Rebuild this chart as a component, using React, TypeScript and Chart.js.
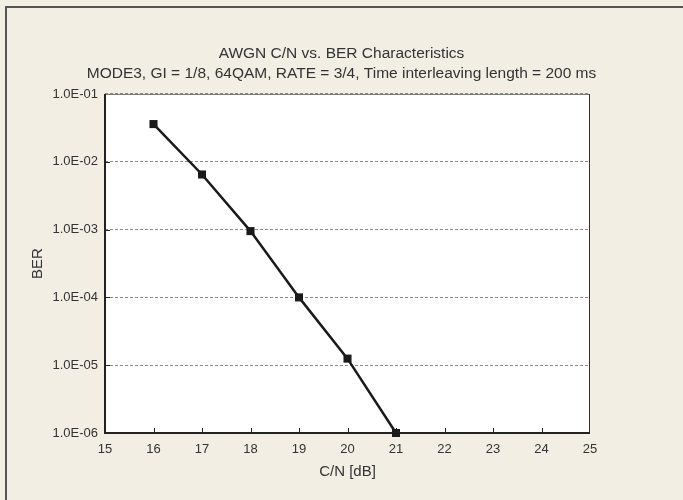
import React, { useEffect, useRef } from "react";
import { Chart, registerables } from "chart.js";

Chart.register(...registerables);

const titleLines = [
  "AWGN C/N vs. BER Characteristics",
  "MODE3, GI = 1/8, 64QAM, RATE = 3/4, Time interleaving length = 200 ms",
];
const xAxisTitle = "C/N [dB]";
const yAxisTitle = "BER";
const cnValues = [16, 17, 18, 19, 20, 21];
const berValues = [3.6e-2, 6.5e-3, 9.5e-4, 1.0e-4, 1.25e-5, 1.0e-6];
const yTickValues = [1e-6, 1e-5, 1e-4, 1e-3, 1e-2, 1e-1];
const xMin = 15;
const xMax = 25;

const BG = "#F2EEE3";
const TEXT = "#333333";
const FONT = "'Liberation Sans', Arial, sans-serif";

function fmtExp(v: number): string {
  const e = Math.round(Math.log10(v));
  const sign = e < 0 ? "-" : "+";
  const a = Math.abs(e);
  return "1.0E" + sign + (a < 10 ? "0" : "") + a;
}

const framePlugin = {
  id: "frame",
  beforeDraw(chart: any) {
    const { ctx, width, height, chartArea } = chart;
    ctx.save();
    ctx.fillStyle = BG;
    ctx.fillRect(0, 0, width, height);
    ctx.strokeStyle = "#555555";
    ctx.lineWidth = 2;
    ctx.beginPath();
    ctx.moveTo(6, height);
    ctx.lineTo(6, 7);
    ctx.lineTo(width, 7);
    ctx.stroke();
    ctx.fillStyle = "#ffffff";
    ctx.fillRect(chartArea.left, chartArea.top, chartArea.right - chartArea.left, chartArea.bottom - chartArea.top);
    ctx.restore();
  },
  beforeDatasetsDraw(chart: any) {
    const { ctx, chartArea } = chart;
    const xs = chart.scales.x;
    const ys = chart.scales.y;
    ctx.save();
    ctx.strokeStyle = "#222222";
    ctx.lineWidth = 1;
    ctx.beginPath();
    for (let v = xMin + 1; v < xMax; v++) {
      const px = Math.round(xs.getPixelForValue(v)) + 0.5;
      ctx.moveTo(px, chartArea.bottom);
      ctx.lineTo(px, chartArea.bottom - 5);
    }
    for (const v of yTickValues) {
      const py = Math.round(ys.getPixelForValue(v)) + 0.5;
      ctx.moveTo(chartArea.left, py);
      ctx.lineTo(chartArea.left + 5, py);
    }
    ctx.stroke();
    ctx.strokeStyle = "#777777";
    ctx.lineWidth = 1;
    ctx.beginPath();
    ctx.moveTo(chartArea.left, chartArea.top + 0.5);
    ctx.lineTo(chartArea.right, chartArea.top + 0.5);
    ctx.stroke();
    ctx.strokeStyle = "#333333";
    ctx.beginPath();
    ctx.moveTo(chartArea.right - 0.5, chartArea.top);
    ctx.lineTo(chartArea.right - 0.5, chartArea.bottom);
    ctx.stroke();
    ctx.strokeStyle = "#222222";
    ctx.lineWidth = 2;
    ctx.beginPath();
    ctx.moveTo(chartArea.left, chartArea.top);
    ctx.lineTo(chartArea.left, chartArea.bottom);
    ctx.lineTo(chartArea.right, chartArea.bottom);
    ctx.stroke();
    ctx.restore();
  },
};

export default function App() {
  const ref = useRef<HTMLCanvasElement | null>(null);
  useEffect(() => {
    if (!ref.current) return;
    const chart = new Chart(ref.current, {
      type: "line",
      data: {
        datasets: [
          {
            data: cnValues.map((x, i) => ({ x, y: berValues[i] })),
            borderColor: "#1a1a1a",
            backgroundColor: "#1a1a1a",
            borderWidth: 2.5,
            pointStyle: "rect",
            pointRadius: 5.7,
            pointBorderWidth: 0,
            tension: 0,
            clip: false,
          } as any,
        ],
      },
      options: {
        responsive: false,
        animation: false,
        events: [],
        layout: { padding: 0 },
        plugins: {
          legend: { display: false },
          tooltip: { enabled: false },
          title: {
            display: true,
            text: titleLines,
            color: TEXT,
            font: { family: FONT, size: 15.5, weight: "normal", lineHeight: 1.29 },
            padding: { top: 44, bottom: 10 },
          },
        },
        scales: {
          x: {
            type: "linear",
            min: xMin,
            max: xMax,
            afterFit(scale: any) {
              scale.height = 67;
            },
            ticks: { stepSize: 1, color: TEXT, font: { family: FONT, size: 13 }, padding: 9, maxRotation: 0 },
            grid: { display: false, drawTicks: false },
            border: { display: false },
            title: {
              display: true,
              text: xAxisTitle,
              color: TEXT,
              font: { family: FONT, size: 15 },
              padding: { top: 0, bottom: 19 },
            },
          },
          y: {
            type: "logarithmic",
            min: 1e-6,
            max: 1e-1,
            afterFit(scale: any) {
              scale.width = 105;
            },
            afterBuildTicks(scale: any) {
              scale.ticks = yTickValues.map((v) => ({ value: v }));
            },
            ticks: {
              color: TEXT,
              font: { family: FONT, size: 13 },
              padding: 7,
              callback: (v: any) => fmtExp(Number(v)),
            },
            grid: {
              drawTicks: false,
              color: "#8a8a8a",
              lineWidth: 1,
            },
            border: { display: false, dash: [3, 2] },
            title: {
              display: true,
              text: yAxisTitle,
              color: TEXT,
              font: { family: FONT, size: 15 },
              padding: { top: 29, bottom: 0 },
            },
          },
          yRight: {
            type: "linear",
            position: "right",
            display: true,
            afterFit(scale: any) {
              scale.width = 93;
            },
            ticks: { display: false },
            grid: { display: false, drawTicks: false },
            border: { display: false },
          },
        },
      },
      plugins: [framePlugin],
    });
    return () => chart.destroy();
  }, []);
  return (
    <div style={{ position: "fixed", left: 0, top: 0, width: 683, height: 500, background: BG }}>
      <canvas ref={ref} width={683} height={500} style={{ display: "block" }} />
    </div>
  );
}
